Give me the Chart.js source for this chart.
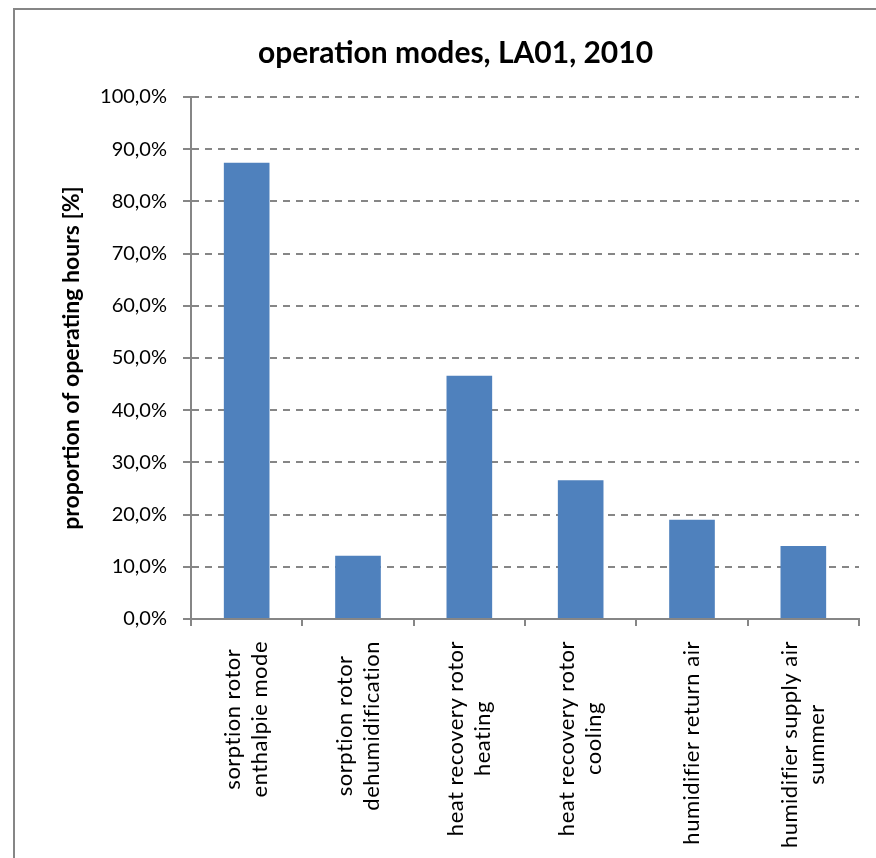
<!DOCTYPE html>
<html>
<head>
<meta charset="utf-8">
<script src="https://cdn.jsdelivr.net/npm/chart.js@4"></script>
<style>
  body { margin: 0; background: #ffffff; }
  #wrap { width: 876px; height: 858px; position: relative; }
</style>
</head>
<body>
<div id="wrap"><canvas id="myChart"></canvas></div>
<script>
// categories, one entry per bar (two lines each where the label wraps)
const categories = [
    ['sorption rotor', 'enthalpie mode'],
    ['sorption rotor', 'dehumidification'],
    ['heat recovery rotor', 'heating'],
    ['heat recovery rotor', 'cooling'],
    ['humidifier return air'],
    ['humidifier supply air', 'summer']
];
// proportion of operating hours in percent
const shares = [87.4, 12.1, 46.6, 26.6, 19.0, 14.0];
const yTicks = [0, 10, 20, 30, 40, 50, 60, 70, 80, 90, 100];

const chartTitle = 'operation modes, LA01, 2010';
const yTitle = 'proportion of operating hours [%]';

const axisGray = '#868686';
const barBlue = '#4F81BD';
const fontName = 'Lato, "Open Sans", sans-serif';

function fmtPercent(v){
    return v.toFixed(1).replace('.', ',') + '%';
}

// outer frame of the chart object, cut at right and bottom like the original
const framePlugin = {
    id: 'frame',
    beforeDraw(chart){
        const ctx = chart.ctx;
        ctx.save();
        ctx.fillStyle = '#ffffff';
        ctx.fillRect(0, 0, chart.width, chart.height);
        ctx.strokeStyle = axisGray;
        ctx.lineWidth = 2;
        ctx.strokeRect(14, 9, chart.width + 40, chart.height + 40);
        ctx.restore();
    }
};

// rotated category labels, lines centred on each other, block hanging from the axis
const xLabelPlugin = {
    id: 'xLabels',
    afterDraw(chart){
        const ctx = chart.ctx;
        const xs = chart.scales.x;
        const labelTop = xs.top + 22;
        const lineH = 27;
        ctx.save();
        ctx.font = '22px ' + fontName;
        ctx.letterSpacing = '0.5px';
        ctx.fillStyle = '#000000';
        ctx.textAlign = 'center';
        ctx.textBaseline = 'middle';
        categories.forEach((lines, i) => {
            const x = xs.getPixelForTick(i);
            let w = 0;
            lines.forEach(l => { w = Math.max(w, ctx.measureText(l).width); });
            ctx.save();
            ctx.translate(x, labelTop + w / 2);
            ctx.rotate(-Math.PI / 2);
            lines.forEach((l, j) => {
                ctx.fillText(l, 0, (j - (lines.length - 1) / 2) * lineH);
            });
            ctx.restore();
        });
        ctx.restore();
    }
};

const ctx = document.querySelector('#myChart').getContext('2d');
const myChart = new Chart(ctx, {
    type: 'bar',
    data: {
        labels: categories,
        datasets: [{
            label: 'share',
            data: shares,
            backgroundColor: barBlue,
            borderColor: barBlue,
            borderWidth: 0,
            barPercentage: 0.41,
            categoryPercentage: 1
        }]
    },
    plugins: [framePlugin, xLabelPlugin],
    options: {
        responsive: true,
        maintainAspectRatio: false,
        animation: false,
        devicePixelRatio: 1,
        layout: {
            padding: { left: 52, right: 17, top: 0, bottom: 0 }
        },
        plugins: {
            legend: { display: false },
            tooltip: { enabled: false },
            title: {
                display: true,
                text: chartTitle,
                color: '#000000',
                font: { family: fontName, size: 30, weight: 'bold' },
                padding: { top: 35, bottom: 26 }
            }
        },
        scales: {
            x: {
                grid: {
                    offset: true,
                    drawOnChartArea: false,
                    color: axisGray,
                    lineWidth: 2,
                    tickLength: 7
                },
                border: { color: axisGray, width: 2 },
                ticks: { display: false },
                afterFit(scale){
                    scale.height = 239;
                }
            },
            y: {
                min: 0,
                max: 100,
                afterBuildTicks(scale){
                    scale.ticks = yTicks.map(v => ({ value: v }));
                },
                grid: {
                    color: axisGray,
                    lineWidth: 2,
                    tickBorderDash: [],
                    tickColor: axisGray,
                    tickWidth: 2,
                    tickLength: 8
                },
                border: { color: axisGray, width: 2, dash: [7, 6] },
                ticks: {
                    color: '#000000',
                    padding: 16,
                    font: { family: fontName, size: 20 },
                    callback: v => fmtPercent(v)
                },
                title: {
                    display: true,
                    text: yTitle,
                    color: '#000000',
                    font: { family: fontName, size: 23, weight: 'bold' },
                    padding: { top: 6, bottom: 0 }
                },
                afterFit(scale){
                    scale.width = 139;
                }
            }
        }
    }
});
</script>
</body>
</html>
